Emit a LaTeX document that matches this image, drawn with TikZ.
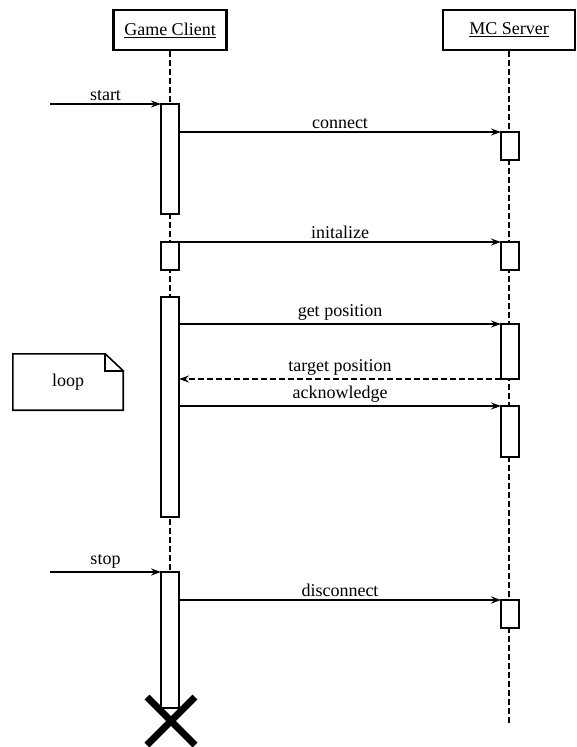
\documentclass[tikz,border=0pt]{standalone}
\usepackage{fontspec}
\setmainfont{Liberation Serif}
\usetikzlibrary{arrows.meta}

\tikzset{
  actor/.style={draw, line width=2.2pt, minimum width=113pt, minimum height=40pt, inner sep=0pt},
  act/.style={draw, fill=white, line width=1.6pt, minimum width=18pt, inner sep=0pt, outer sep=0pt},
  msg/.style={line width=1.6pt, -{Stealth[length=10pt,width=7pt]}},
  reply/.style={msg, dash pattern=on 6pt off 3pt},
  life/.style={line width=1.6pt, dash pattern=on 6pt off 3pt},
  lbl/.style={above=3pt, inner sep=0pt}
}

\begin{document}
\begin{tikzpicture}[x=1pt, y=-1pt, font=\fontsize{18}{22}\selectfont]
  \useasboundingbox (0,0) rectangle (577,747);

  \node[actor] (client) at (170,30) {\underline{Game Client}};
  \node[actor, minimum width=132pt] (server) at (509,30) {\underline{MC Server}};

  % lifelines
  \draw[life] (client.south) -- (170,705);
  \draw[life] (server.south) -- (509,725);

  % activations
  \node[act, minimum height=110pt] (ca1) at (170,159) {};
  \node[act, minimum height=28pt] (ca2) at (170,256) {};
  \node[act, minimum height=220pt] (ca3) at (170,407) {};
  \node[act, minimum height=136pt] (ca4) at (170,640) {};
  \node[act, minimum height=28pt] (sa1) at (510,146) {};
  \node[act, minimum height=28pt] (sa2) at (510,256) {};
  \node[act, minimum height=55pt] (sa3) at (510,351.5) {};
  \node[act, minimum height=51pt] (sa4) at (510,431.5) {};
  \node[act, minimum height=28pt] (sa5) at (510,614) {};

  % messages
  \coordinate (in1) at (50,104);
  \coordinate (in2) at (50,572);
  \draw[msg] (in1) -- node[lbl] {start} (ca1.north west);
  \draw[msg] (ca1.east |- sa1.north west) -- node[lbl] {connect} (sa1.north west);
  \draw[msg] (ca2.north east) -- node[lbl] {initalize} (sa2.north west);
  \draw[msg] (ca3.east |- sa3.north west) -- node[lbl] {get position} (sa3.north west);
  \draw[reply] (sa3.south west) -- node[lbl] {target position} (ca3.east |- sa3.south west);
  \draw[msg] (ca3.east |- sa4.north west) -- node[lbl] {acknowledge} (sa4.north west);
  \draw[msg] (in2) -- node[lbl] {stop} (ca4.north west);
  \draw[msg] (ca4.east |- sa5.north west) -- node[lbl] {disconnect} (sa5.north west);

  % loop note
  \node[minimum width=110pt, minimum height=56pt, inner sep=0pt] (loop) at (68,382) {loop};
  \draw[line width=1.6pt] (loop.north west) -- ([xshift=-18pt]loop.north east)
    -- ([yshift=-17pt]loop.north east) -- (loop.south east) -- (loop.south west) -- cycle;
  \draw[line width=1.6pt] ([xshift=-18pt]loop.north east) -- ++(0,-17pt)
    -- ([yshift=-17pt]loop.north east);

  % destroy
  \coordinate (kill) at (171,721);
  \draw[line width=7pt] ([shift={(-24pt,-24pt)}]kill) -- ([shift={(24pt,24pt)}]kill);
  \draw[line width=7pt] ([shift={(-24pt,24pt)}]kill) -- ([shift={(24pt,-24pt)}]kill);
\end{tikzpicture}
\end{document}
